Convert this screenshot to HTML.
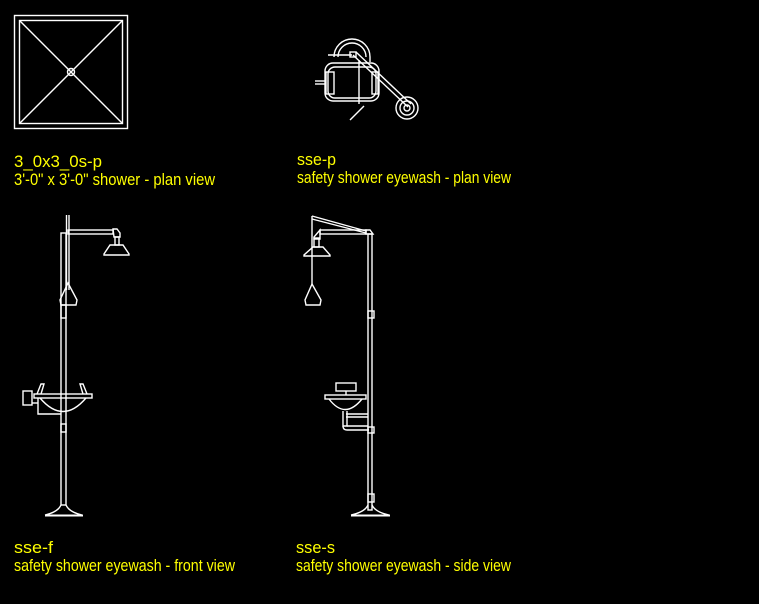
<!DOCTYPE html>
<html><head><style>html,body{margin:0;background:#000;}svg{display:block}</style></head><body>
<svg width="759" height="604" viewBox="0 0 759 604" xmlns="http://www.w3.org/2000/svg">
<g fill="none" stroke="#fff" stroke-width="1.4">
<rect x="14.5" y="15.5" width="113" height="113"/>
<rect x="19.5" y="20.5" width="103" height="103"/>
<line x1="20" y1="21" x2="122" y2="123"/><line x1="122" y1="21" x2="20" y2="123"/>
<circle cx="71" cy="72" r="3.5"/>
<path d="M334,57 A18,18 0 0 1 370,57 L370,62"/>
<path d="M338,57 A14,14 0 0 1 366,57"/>
<rect x="325" y="63" width="54" height="38" rx="8"/>
<rect x="328" y="67" width="48" height="31" rx="7"/>
<rect x="326" y="72" width="8" height="22"/><rect x="372" y="72" width="6" height="22"/>
<line x1="315" y1="81" x2="325" y2="81"/><line x1="315" y1="84" x2="325" y2="84"/>
<line x1="328" y1="55" x2="352" y2="55"/><rect x="350" y="52" width="6" height="5"/>
<line x1="353" y1="55" x2="408" y2="107"/><line x1="356" y1="52" x2="411" y2="104"/>
<circle cx="407" cy="108" r="11"/><circle cx="407" cy="108" r="7"/><circle cx="407" cy="108" r="3"/>
<line x1="359" y1="60" x2="359" y2="104"/>
<line x1="350" y1="120" x2="364" y2="106"/>
<rect x="61" y="233" width="5" height="272"/>
<line x1="66.5" y1="215" x2="66.5" y2="290"/><line x1="69" y1="215" x2="69" y2="290"/>
<rect x="68" y="230" width="45" height="4"/>
<path d="M113,229 h4 l3,4 v4 h-6 z"/>
<rect x="115" y="237" width="4" height="8"/>
<path d="M110,245 h13 l6,9 v1 h-25 v-1 z"/>
<path d="M68,283 L60,300 L61,305 L76,305 L77,300 Z"/>
<rect x="61" y="305" width="5" height="13"/>
<rect x="34" y="394" width="58" height="4"/>
<path d="M40,398 Q63,425 86,398"/>
<path d="M37,394 l4,-10 h3 l-3,10"/><path d="M87,394 l-4,-10 h-3 l3,10"/>
<rect x="23" y="391" width="9" height="14"/><line x1="32" y1="403" x2="38" y2="403"/>
<path d="M38,398 v16 h23"/>
<rect x="61" y="424" width="5" height="8"/>
<path d="M61,505 Q58,512 45,515 M66,505 Q69,512 82,515"/>
<line x1="45" y1="515.5" x2="83" y2="515.5" stroke-width="2"/>
<rect x="368" y="234" width="4" height="276"/>
<path d="M366,230 h4 l3,4 h-7 z"/>
<rect x="320" y="230" width="46" height="4"/>
<path d="M320,230 l-6,7 v2 h6 z"/>
<line x1="312" y1="216" x2="312" y2="284"/>
<line x1="312" y1="216" x2="366" y2="231"/><line x1="312" y1="219" x2="366" y2="233"/>
<rect x="314" y="238" width="5" height="9"/>
<path d="M313,247 h10 l7,8 v1 h-26 v-1 z"/>
<path d="M312,284 L305,300 L306,305 L320,305 L321,300 Z"/>
<rect x="368" y="311" width="6" height="7"/>
<rect x="336" y="383" width="20" height="8"/><line x1="346" y1="391" x2="346" y2="395"/>
<rect x="325" y="395" width="41" height="4"/>
<path d="M329,399 Q345,420 362,399"/>
<path d="M343,411 v15 h4 v-15 M346,414 h22 M346,417 h22"/>
<path d="M343,426 q0,4 4,4 h22 M347,426 h21"/>
<rect x="368" y="427" width="6" height="6"/>
<rect x="368" y="494" width="6" height="8"/>
<path d="M368,505 Q365,512 351,515 M372,505 Q375,512 389,515"/>
<line x1="351" y1="515.5" x2="390" y2="515.5" stroke-width="2"/>
</g>
<g fill="#ff0" font-family="Liberation Sans Narrow, Liberation Sans, sans-serif" font-size="17">
<text x="14" y="167" textLength="88" lengthAdjust="spacingAndGlyphs">3_0x3_0s-p</text>
<text x="14" y="185" textLength="201" lengthAdjust="spacingAndGlyphs">3'-0" x 3'-0" shower - plan view</text>
<text x="297" y="165" textLength="39" lengthAdjust="spacingAndGlyphs">sse-p</text>
<text x="297" y="183" textLength="214" lengthAdjust="spacingAndGlyphs">safety shower eyewash - plan view</text>
<text x="14" y="553" textLength="39" lengthAdjust="spacingAndGlyphs">sse-f</text>
<text x="14" y="571" textLength="221" lengthAdjust="spacingAndGlyphs">safety shower eyewash - front view</text>
<text x="296" y="553" textLength="39" lengthAdjust="spacingAndGlyphs">sse-s</text>
<text x="296" y="571" textLength="215" lengthAdjust="spacingAndGlyphs">safety shower eyewash - side view</text>
</g>
</svg>
</body></html>
